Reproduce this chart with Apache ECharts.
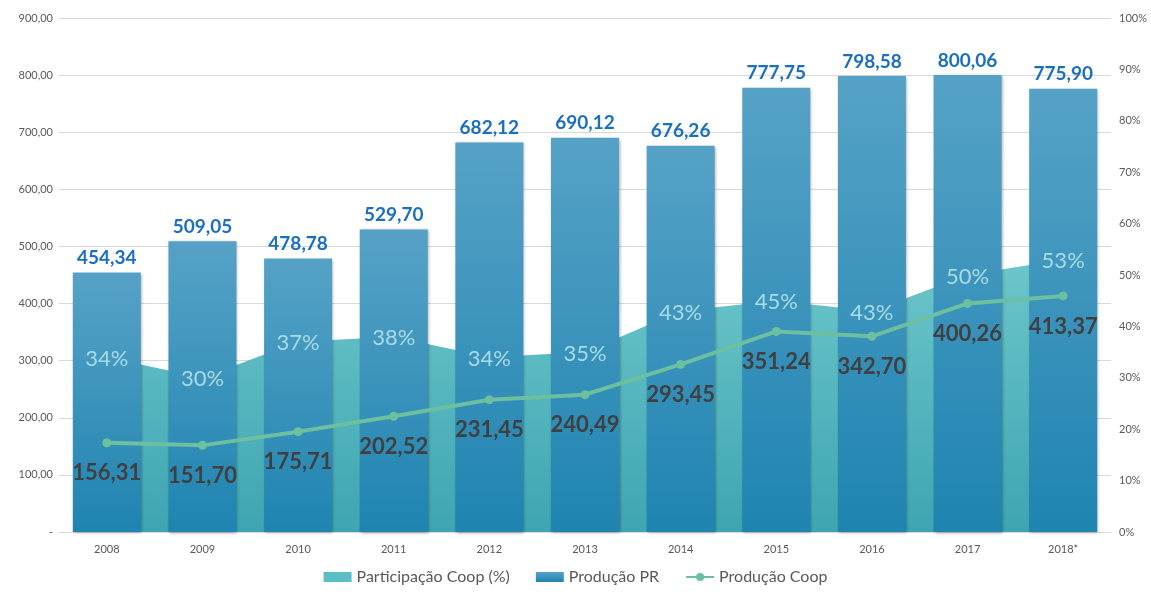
<!DOCTYPE html>
<html>
<head>
<meta charset="utf-8">
<script src="https://cdn.jsdelivr.net/npm/echarts@6/dist/echarts.min.js"></script>
<style>
	html, body { margin: 0; padding: 0; background: #fff; }
	#main { width: 1151px; height: 594px; }
</style>
</head>
<body>
<div id="main"></div>
<script>
'use strict';

// values
var years = ['2008', '2009', '2010', '2011', '2012', '2013', '2014', '2015', '2016', '2017', '2018*'];
var producaoPR = [454.34, 509.05, 478.78, 529.70, 682.12, 690.12, 676.26, 777.75, 798.58, 800.06, 775.90];
var producaoCoop = [156.31, 151.70, 175.71, 202.52, 231.45, 240.49, 293.45, 351.24, 342.70, 400.26, 413.37];
var participacao = [34, 30, 37, 38, 34, 35, 43, 45, 43, 50, 53];

var fontName = 'Lato, "Noto Sans", sans-serif';

function fmtBR(v) {
	return v.toFixed(2).replace('.', ',');
}

var myChart = echarts.init(document.getElementById('main'));

var barColor = new echarts.graphic.LinearGradient(0, 0, 0, 1, [
	{ offset: 0, color: '#56a2c6' },
	{ offset: 1, color: '#1f84b1' }
]);
var areaColor = new echarts.graphic.LinearGradient(0, 0, 0, 1, [
	{ offset: 0, color: '#6cc6ca' },
	{ offset: 1, color: '#3ea5b2' }
]);

var option = {
	animation: false,
	textStyle: { fontFamily: fontName },
	grid: { left: 59, right: 40, top: 18, bottom: 62 },
	legend: {
		bottom: 4,
		left: 'center',
		itemWidth: 28,
		itemHeight: 10,
		itemGap: 26,
		textStyle: { fontSize: 16, color: '#595959', fontFamily: fontName },
		data: [
			{ name: 'Participação Coop (%)', icon: 'rect', itemStyle: { color: '#5bbec4' } },
			{ name: 'Produção PR', icon: 'rect', itemStyle: { color: barColor } },
			{ name: 'Produção Coop' }
		]
	},
	xAxis: {
		type: 'category',
		data: years,
		axisTick: { show: false },
		axisLine: { lineStyle: { color: '#d9d9d9', width: 1 } },
		axisLabel: { color: '#595959', fontSize: 11, margin: 12 }
	},
	yAxis: [
		{
			type: 'value',
			min: 0,
			max: 900,
			interval: 100,
			axisLabel: {
				color: '#595959',
				fontSize: 11,
				margin: 6,
				formatter: function(v) { return v === 0 ? '-' : fmtBR(v); }
			},
			splitLine: { lineStyle: { color: '#d9d9d9' } }
		},
		{
			type: 'value',
			min: 0,
			max: 100,
			interval: 10,
			axisLabel: {
				color: '#595959',
				fontSize: 11,
				margin: 8,
				formatter: '{value}%'
			},
			splitLine: { show: false }
		}
	],
	series: [
		{
			name: 'Participação Coop (%)',
			type: 'line',
			yAxisIndex: 1,
			data: participacao,
			symbol: 'none',
			lineStyle: { width: 0 },
			itemStyle: { color: '#5bbec4' },
			areaStyle: { color: areaColor, opacity: 1 },
			z: 1
		},
		{
			name: 'Produção PR',
			type: 'bar',
			data: producaoPR,
			barWidth: 68,
			itemStyle: {
				color: barColor,
				shadowBlur: 3,
				shadowColor: 'rgba(0,0,0,0.35)',
				shadowOffsetX: 1,
				shadowOffsetY: 1
			},
			label: {
				show: true,
				position: 'top',
				distance: 5,
				color: '#1a6fc2',
				fontSize: 19,
				fontWeight: 'bold',
				formatter: function(p) { return fmtBR(p.value); }
			},
			z: 2
		},
		{
			// labels of the area, drawn above the bars
			name: 'Participação Coop (%)',
			type: 'line',
			yAxisIndex: 1,
			data: participacao,
			symbol: 'circle',
			symbolSize: 1,
			showAllSymbol: true,
			silent: true,
			lineStyle: { opacity: 0 },
			itemStyle: { color: 'rgba(0,0,0,0)' },
			label: {
				show: true,
				position: 'top',
				distance: -13,
				color: '#a9dbe6',
				fontSize: 22,
				formatter: '{c}%'
			},
			z: 3
		},
		{
			name: 'Produção Coop',
			type: 'line',
			data: producaoCoop,
			symbol: 'circle',
			symbolSize: 9,
			showAllSymbol: true,
			lineStyle: { color: '#6cbf9f', width: 4 },
			itemStyle: { color: '#6cbf9f' },
			label: {
				show: true,
				position: 'bottom',
				distance: 15,
				color: '#404040',
				fontSize: 22,
				fontWeight: 'bold',
				formatter: function(p) { return fmtBR(p.value); }
			},
			z: 4
		}
	]
};

myChart.setOption(option);
</script>
</body>
</html>
